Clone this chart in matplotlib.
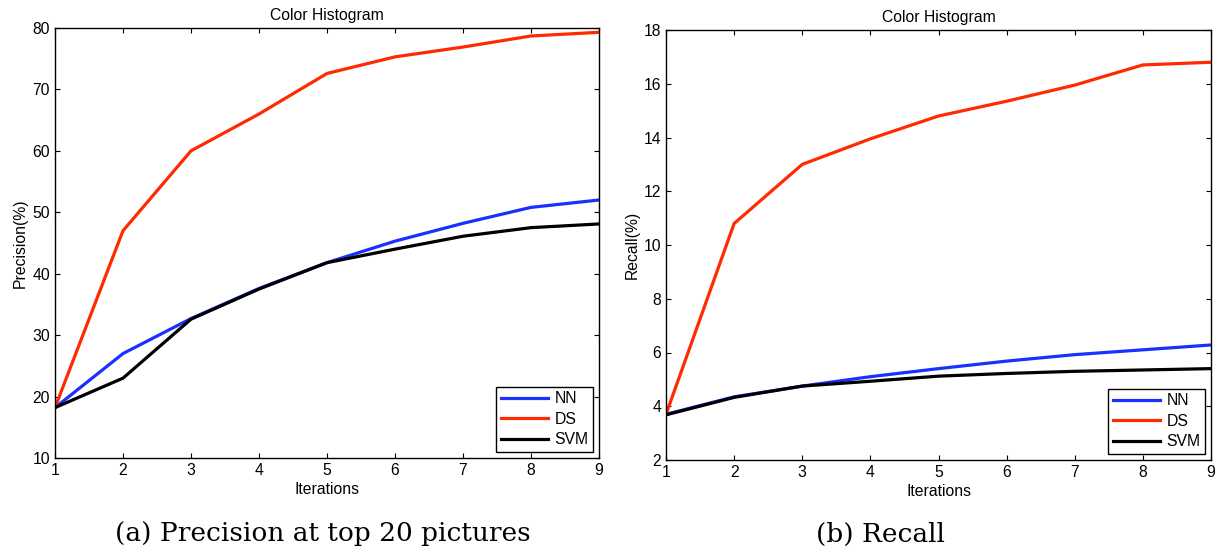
import numpy as np
import matplotlib.pyplot as plt

plt.rcParams['font.family'] = ['Liberation Sans', 'DejaVu Sans']

# Итерации
iters = [1, 2, 3, 4, 5, 6, 7, 8, 9]

# Точность (top 20)
prec_nn = [18.2, 27.0, 32.7, 37.6, 41.8, 45.3, 48.2, 50.8, 52.0]
prec_ds = [18.2, 47.0, 60.0, 66.0, 72.6, 75.3, 76.9, 78.7, 79.3]
prec_svm = [18.2, 23.0, 32.6, 37.5, 41.8, 44.0, 46.1, 47.5, 48.1]

# Полнота
rec_nn = [3.7, 4.35, 4.75, 5.1, 5.4, 5.68, 5.92, 6.1, 6.28]
rec_ds = [3.7, 10.8, 13.0, 13.95, 14.8, 15.35, 15.95, 16.7, 16.8]
rec_svm = [3.68, 4.33, 4.75, 4.93, 5.12, 5.22, 5.3, 5.35, 5.4]

names = ['NN', 'DS', 'SVM']
colors = ['#1a30ff', '#ff2a00', 'black']

W, H = 1223, 550
fig = plt.figure(figsize=(W / 100, H / 100), dpi=100)
ax1 = fig.add_axes([55/W, 1-458/H, 544/W, 430/H])
ax2 = fig.add_axes([666/W, 1-460/H, 545/W, 430/H])

fs = 11.3


def draw(ax, series, ylim, yticks, ylabel):
    for y, name, c in zip(series, names, colors):
        ax.plot(iters, y, color=c, lw=2.3, label=name)
    ax.set_xlim(1, 9)
    ax.set_ylim(*ylim)
    ax.set_xticks(iters)
    ax.set_yticks(yticks)
    ax.tick_params(direction='in', top=True, right=True, labelsize=fs,
                   length=3.6, width=0.8, pad=3.5)
    ax.set_title('Color Histogram', fontsize=fs, pad=6)
    ax.set_xlabel('Iterations', fontsize=fs, labelpad=3)
    ax.set_ylabel(ylabel, fontsize=fs, labelpad=3)
    for s in ax.spines.values():
        s.set_linewidth(1.0)
    leg = ax.legend(loc='lower right', fontsize=fs, fancybox=False,
                    edgecolor='black', framealpha=1, handlelength=3.0,
                    handletextpad=0.4, borderpad=0.3, borderaxespad=0.38,
                    labelspacing=0.35)
    leg.get_frame().set_linewidth(1.0)


draw(ax1, [prec_nn, prec_ds, prec_svm], (10, 80), range(10, 81, 10), 'Precision(%)')
draw(ax2, [rec_nn, rec_ds, rec_svm], (2, 18), range(2, 19, 2), 'Recall(%)')

fig.text(323/W, 1-534/H, '(a) Precision at top 20 pictures',
         family='DejaVu Serif', fontsize=19, ha='center', va='center')
fig.text(880/W, 1-534/H, '(b) Recall',
         family='DejaVu Serif', fontsize=19, ha='center', va='center')

plt.savefig('out.png', dpi=100)
